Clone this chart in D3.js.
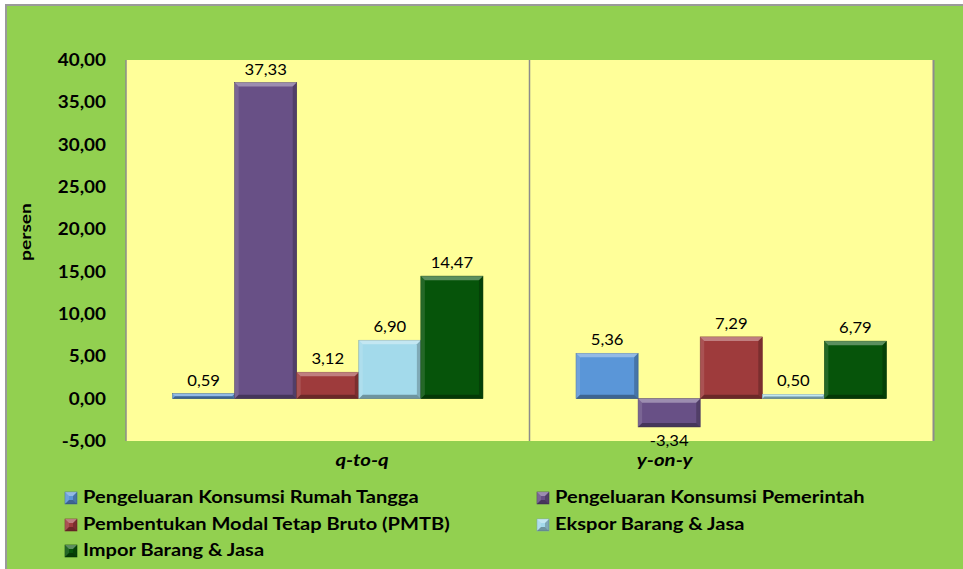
<!DOCTYPE html>
<html><head><meta charset="utf-8">
<script src="https://cdn.jsdelivr.net/npm/d3@7"></script>
<style>
body{margin:0;background:#fff}
svg{display:block}
text{font-family:Lato,"Open Sans",sans-serif;fill:#000}
</style></head>
<body><svg id="c" width="963" height="569"></svg>
<script>
const categories = ["q-to-q", "y-on-y"];
const seriesNames = [
  "Pengeluaran Konsumsi Rumah Tangga",
  "Pengeluaran Konsumsi Pemerintah",
  "Pembentukan Modal Tetap Bruto (PMTB)",
  "Ekspor Barang & Jasa",
  "Impor Barang & Jasa"
];
const seriesColors = ["#5A96D8", "#685086", "#9E3B3C", "#A3DAEB", "#06540A"];
const qtoqValues = [0.59, 37.33, 3.12, 6.90, 14.47];
const yonyValues = [5.36, -3.34, 7.29, 0.50, 6.79];
const yTicks = [-5, 0, 5, 10, 15, 20, 25, 30, 35, 40];
const yTitle = "persen";

const values = [qtoqValues, yonyValues];
const svg = d3.select("#c");
const W = 963, H = 569;
const plot = {l: 126, r: 933, t: 60, b: 441};

const loc = d3.formatLocale({decimal: ",", thousands: ".", grouping: [3], currency: ["", ""], minus: "-"});
const fmt = loc.format(".2f");

// horizontally stretched text helper (source fonts render wider)
function stext(g, x, y, str, sx, opts) {
  const t = g.append("text")
    .attr("transform", `translate(${x},${y}) scale(${sx},1)${opts.rotate ? " rotate(" + opts.rotate + ")" : ""}`)
    .attr("text-anchor", opts.anchor || "start")
    .style("font-size", (opts.size || 16) + "px")
    .style("font-weight", opts.bold ? "bold" : "normal")
    .style("font-style", opts.italic ? "italic" : "normal")
    .text(str);
  return t;
}

// background frame
svg.append("rect").attr("x", 6).attr("y", 5).attr("width", W).attr("height", H)
  .attr("fill", "#92D050").attr("stroke", "#9a9a9a").attr("stroke-width", 2);

// plot area
svg.append("rect").attr("x", plot.l).attr("y", plot.t)
  .attr("width", plot.r - plot.l).attr("height", plot.b - plot.t).attr("fill", "#FFFF99");

const x = d3.scaleBand().domain(categories).range([plot.l, plot.r]).paddingInner(0).paddingOuter(0);
const xs = d3.scaleBand().domain(d3.range(seriesNames.length)).range([0, x.bandwidth()])
  .paddingInner(0).paddingOuter(0.75);
const y = d3.scaleLinear().domain([-5, 40]).range([plot.b, plot.t]);

// right shadow border & divider
svg.append("line").attr("x1", plot.r + 0.5).attr("x2", plot.r + 0.5).attr("y1", plot.t).attr("y2", plot.b)
  .attr("stroke", "#8c8c8c").attr("stroke-width", 2);
svg.append("line").attr("x1", x(categories[1])).attr("x2", x(categories[1])).attr("y1", plot.t).attr("y2", plot.b)
  .attr("stroke", "#8c8c8c").attr("stroke-width", 1.5);

// y axis
const yAxis = svg.append("g").attr("transform", `translate(${plot.l},0)`)
  .call(d3.axisLeft(y).tickValues(yTicks).tickFormat(fmt).tickSize(0).tickPadding(20));
yAxis.select(".domain").remove();
yAxis.selectAll(".tick text")
  .each(function() {
    const t = d3.select(this);
    const xx = +t.attr("x");
    t.attr("x", null).attr("transform", `translate(${xx},0) scale(1.11,1)`);
  })
  .style("font-family", "Lato").style("font-weight", "bold").style("font-size", "17px").attr("fill", "#000");
svg.append("line").attr("x1", plot.l).attr("x2", plot.l).attr("y1", plot.t).attr("y2", plot.b)
  .attr("stroke", "#8c8c8c").attr("stroke-width", 1.5);

// y title
svg.append("text").attr("transform", "translate(31,232) rotate(-90) scale(1.2,1)")
  .attr("text-anchor", "middle").style("font-weight", "bold").style("font-size", "16px").text(yTitle);

function bevelBar(g, x0, y0, w, h, color) {
  g.append("rect").attr("x", x0).attr("y", y0).attr("width", w).attr("height", h)
    .attr("fill", color).attr("stroke", d3.color(color).darker(0.8)).attr("stroke-width", 0.6);
  const b = Math.min(4, h / 2, w / 2);
  const poly = (pts, fill, op) => g.append("polygon").attr("points", pts.map(p => p.join(",")).join(" "))
    .attr("fill", fill).attr("opacity", op);
  poly([[x0, y0], [x0 + w, y0], [x0 + w - b, y0 + b], [x0 + b, y0 + b]], "#fff", 0.35);
  poly([[x0, y0], [x0 + b, y0 + b], [x0 + b, y0 + h - b], [x0, y0 + h]], "#fff", 0.12);
  poly([[x0 + w, y0], [x0 + w, y0 + h], [x0 + w - b, y0 + h - b], [x0 + w - b, y0 + b]], "#000", 0.22);
  poly([[x0, y0 + h], [x0 + w, y0 + h], [x0 + w - b, y0 + h - b], [x0 + b, y0 + h - b]], "#000", 0.32);
}

const barsG = svg.append("g");
const labG = svg.append("g");
categories.forEach((c, ci) => {
  values[ci].forEach((v, si) => {
    const x0 = x(c) + xs(si);
    const w = xs.bandwidth();
    const yTop = y(Math.max(0, v)), yBot = y(Math.min(0, v));
    bevelBar(barsG, x0, yTop, w, yBot - yTop, seriesColors[si]);
    stext(labG, x0 + w / 2, v >= 0 ? yTop - 8 : yBot + 19, fmt(v), 1.04, {anchor: "middle", size: 16});
  });
});

// category labels (offset as in source)
const catLabelOffset = [0.585, 0.335];
categories.forEach((c, ci) => {
  stext(svg, x(c) + x.bandwidth() * catLabelOffset[ci], 466, c, 1.2,
    {anchor: "middle", size: 17, bold: true, italic: true});
});

// legend
const legendPos = [[65, 503], [537, 503], [65, 530], [537, 530], [65, 556]];
seriesNames.forEach((n, i) => {
  const [lx, ly] = legendPos[i];
  const g = svg.append("g");
  bevelBar(g, lx, ly - 11, 12, 12, seriesColors[i]);
  stext(g, lx + 18, ly, n, 1.18, {size: 17, bold: true});
});
</script>
</body></html>
